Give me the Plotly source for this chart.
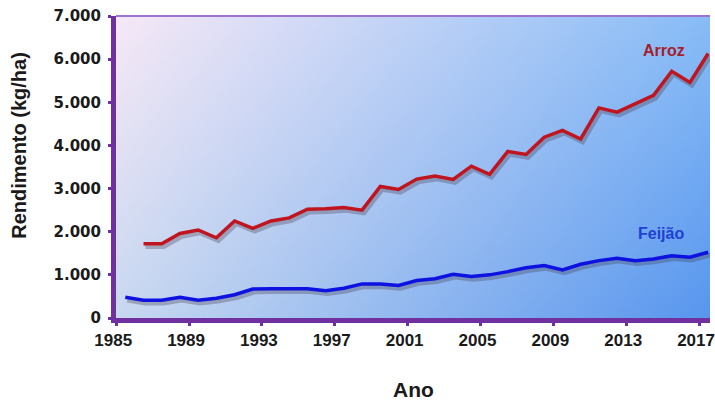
import base64
import struct
import zlib

import numpy as np
import plotly.graph_objects as go

# ---- data -------------------------------------------------------------
feijao_years = list(range(1985, 2018))
feijao = [480, 410, 410, 480, 410, 460, 540, 670, 680, 680, 680, 630, 690,
          790, 790, 755, 870, 910, 1015, 960, 1000, 1075, 1165, 1215, 1115,
          1245, 1330, 1385, 1330, 1370, 1445, 1410, 1525]

arroz_years = list(range(1986, 2018))
arroz = [1720, 1720, 1960, 2040, 1860, 2250, 2080, 2250, 2320, 2520, 2530,
         2560, 2500, 3050, 2980, 3220, 3290, 3210, 3520, 3330, 3860, 3790,
         4190, 4350, 4150, 4870, 4770, 4970, 5160, 5720, 5460, 6130]

tick_years = [1985, 1989, 1993, 1997, 2001, 2005, 2009, 2013, 2017]
y_ticks = [0, 1000, 2000, 3000, 4000, 5000, 6000, 7000]

# ---- geometry ---------------------------------------------------------
FIG_W, FIG_H = 715, 401
M_L, M_R, M_T, M_B = 116, 0, 16, 83
PW, PH = FIG_W - M_L - M_R, FIG_H - M_T - M_B
X0, X1 = 1984.49, 2017.1
Y0, Y1 = 0, 7000
sx = PW / (X1 - X0)          # px per year
sy = PH / (Y1 - Y0)          # px per kg/ha
SH_DX, SH_DY = 2, 3          # drop-shadow offset in px

PURPLE = "#7030a0"
RED = "#c0141e"
BLUE = "#0d12e0"
TXT = "#1a1a1a"


def gradient_png(w, h, tl, tr, bl, br):
    """Bilinear four-corner gradient encoded as a PNG data URI."""
    u = np.linspace(0, 1, w)[None, :, None]
    v = np.linspace(0, 1, h)[:, None, None]
    tl, tr, bl, br = (np.array(c, dtype=float) for c in (tl, tr, bl, br))
    img = (1 - v) * ((1 - u) * tl + u * tr) + v * ((1 - u) * bl + u * br)
    img = np.clip(img.round(), 0, 255).astype(np.uint8)
    raw = b"".join(b"\x00" + img[r].tobytes() for r in range(h))

    def chunk(tag, data):
        return (struct.pack(">I", len(data)) + tag + data
                + struct.pack(">I", zlib.crc32(tag + data) & 0xFFFFFFFF))

    png = (b"\x89PNG\r\n\x1a\n"
           + chunk(b"IHDR", struct.pack(">IIBBBBB", w, h, 8, 2, 0, 0, 0))
           + chunk(b"IDAT", zlib.compress(raw, 9))
           + chunk(b"IEND", b""))
    return "data:image/png;base64," + base64.b64encode(png).decode()


bg = gradient_png(300, 150,
                  (246, 232, 246), (136, 188, 246),
                  (200, 216, 240), (88, 150, 238))

fig = go.Figure()

# soft drop shadows (drawn on a pixel-offset copy of the axes)
shadow = dict(color="rgba(70,60,80,0.33)", width=4.5)
fig.add_trace(go.Scatter(x=arroz_years, y=arroz, mode="lines", line=shadow,
                         xaxis="x", yaxis="y", hoverinfo="skip", showlegend=False))
fig.add_trace(go.Scatter(x=feijao_years, y=feijao, mode="lines", line=shadow,
                         xaxis="x", yaxis="y", hoverinfo="skip", showlegend=False))

# main series
fig.add_trace(go.Scatter(x=arroz_years, y=arroz, mode="lines", name="Arroz",
                         line=dict(color=RED, width=3.5),
                         xaxis="x2", yaxis="y2", showlegend=False))
fig.add_trace(go.Scatter(x=feijao_years, y=feijao, mode="lines", name="Feijão",
                         line=dict(color=BLUE, width=3.5),
                         xaxis="x2", yaxis="y2", showlegend=False))

tick_font_x = dict(family="Liberation Sans, Arial, sans-serif", size=17,
                   color=TXT, weight="bold")
tick_font_y = dict(family="DejaVu Sans, sans-serif", size=15,
                   color=TXT, weight="bold")

fig.update_layout(
    width=FIG_W, height=FIG_H,
    margin=dict(l=M_L, r=M_R, t=M_T, b=M_B),
    paper_bgcolor="white",
    plot_bgcolor="rgba(0,0,0,0)",
    separators=",.",
    showlegend=False,
    xaxis=dict(domain=[SH_DX / PW, 1], range=[X0, X1 - SH_DX / sx],
               anchor="y", visible=False, fixedrange=True),
    yaxis=dict(domain=[0, 1 - SH_DY / PH], range=[Y0 + SH_DY / sy, Y1],
               anchor="x", visible=False, fixedrange=True),
    xaxis2=dict(domain=[0, 1], range=[X0, X1], anchor="y2",
                showline=True, linecolor=PURPLE, linewidth=5,
                showgrid=False, zeroline=False,
                ticks="outside", ticklen=3, tickwidth=3, tickcolor=PURPLE,
                # each year label marks the left edge of that year's slot
                tickvals=[y - 0.5 for y in tick_years],
                ticktext=[str(y) for y in tick_years],
                ticklabelshift=-3, ticklabeloverflow="allow",
                tickfont=tick_font_x),
    yaxis2=dict(domain=[0, 1], range=[Y0, Y1], anchor="x2",
                showline=True, linecolor=PURPLE, linewidth=5,
                showgrid=False, zeroline=False,
                ticks="outside", ticklen=3, tickwidth=3, tickcolor=PURPLE,
                tickvals=y_ticks, tickformat=",d",
                ticklabelstandoff=4,
                tickfont=tick_font_y),
    images=[dict(source=bg, xref="paper", yref="paper", x=0, y=1,
                 sizex=1, sizey=1, xanchor="left", yanchor="top",
                 sizing="stretch", layer="below")],
    shapes=[dict(type="line", xref="paper", yref="paper",
                 x0=0, x1=1, y0=1, y1=1,
                 line=dict(color="#9c74d0", width=2))],
)

label_font = dict(family="Liberation Sans, Arial, sans-serif", size=16, weight="bold")
fig.add_annotation(text="Arroz", x=2014.6, y=6190, xref="x2", yref="y2",
                   xanchor="center", yanchor="middle",
                   showarrow=False, font=dict(label_font, color="#a51e2d"))
fig.add_annotation(text="Feijão", x=2014.4, y=1950, xref="x2", yref="y2",
                   xanchor="center", yanchor="middle",
                   showarrow=False, font=dict(label_font, color="#2040d0"))

fig.add_annotation(text="Rendimento (kg/ha)", textangle=-90,
                   x=(18 - M_L) / PW, y=(PH + M_T - 145) / PH,
                   xref="paper", yref="paper", xanchor="center", yanchor="middle",
                   showarrow=False,
                   font=dict(family="Liberation Sans, Arial, sans-serif",
                             size=20, color=TXT, weight="bold"))
fig.add_annotation(text="Ano",
                   x=(416 - M_L) / PW, y=(PH + M_T - 390) / PH,
                   xref="paper", yref="paper", xanchor="center", yanchor="middle",
                   showarrow=False,
                   font=dict(family="Liberation Sans, Arial, sans-serif",
                             size=21, color=TXT, weight="bold"))

fig.write_html("out.html")
